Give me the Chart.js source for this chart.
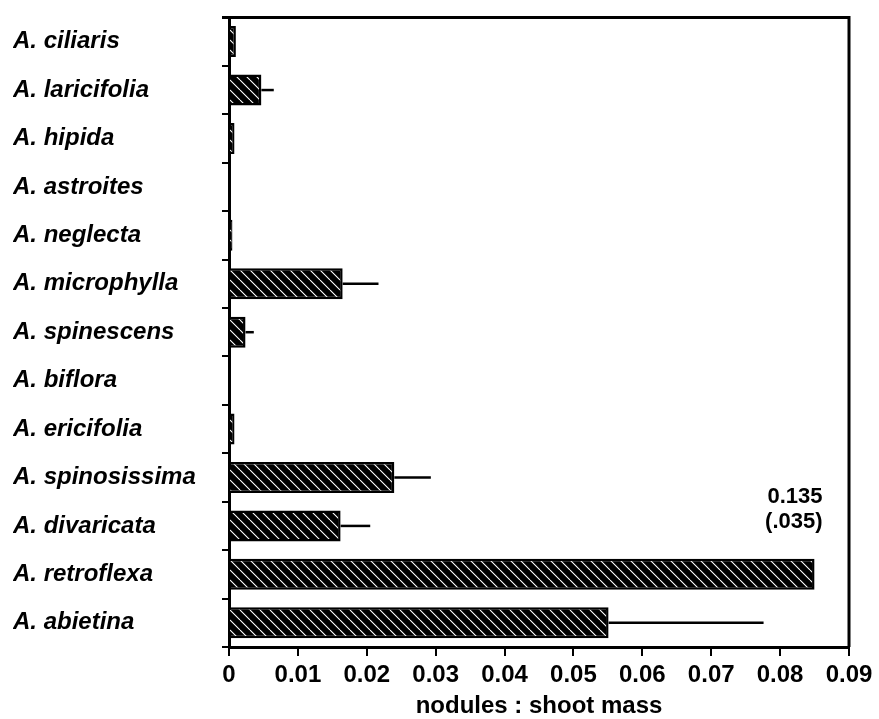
<!DOCTYPE html>
<html>
<head>
<meta charset="utf-8">
<script src="https://cdn.jsdelivr.net/npm/chart.js@4/dist/chart.umd.min.js"></script>
<style>
  html, body { margin: 0; padding: 0; background: #fff; }
  canvas { display: block; }
</style>
</head>
<body>
<canvas id="chart" width="879" height="719"></canvas>
<script>
// Species (top to bottom)
const species = [
  'A. ciliaris', 'A. laricifolia', 'A. hipida', 'A. astroites', 'A. neglecta',
  'A. microphylla', 'A. spinescens', 'A. biflora', 'A. ericifolia',
  'A. spinosissima', 'A. divaricata', 'A. retroflexa', 'A. abietina'
];
// Mean nodules : shoot mass ratio
const ratioMean = [
  0.0010, 0.0047, 0.0008, 0.0000, 0.0005,
  0.0165, 0.0024, 0.0000, 0.0008,
  0.0240, 0.0162, 0.135, 0.0551
];
// Standard error (drawn to the right of each bar)
const ratioSE = [
  0, 0.0018, 0, 0, 0,
  0.0052, 0.0012, 0, 0,
  0.0053, 0.0043, 0.035, 0.0225
];
// Axis break: bars longer than this are cut and their value is written above
const axisBreak = 0.085;
const xTickLabels = ['0', '0.01', '0.02', '0.03', '0.04', '0.05', '0.06', '0.07', '0.08', '0.09'];

// Diagonal hatch fill: black with thin white "\" stripes
function makeHatch() {
  const t = document.createElement('canvas');
  t.width = 10; t.height = 10;
  const c = t.getContext('2d');
  c.fillStyle = '#000';
  c.fillRect(0, 0, 10, 10);
  c.strokeStyle = '#fff';
  c.lineWidth = 1.1;
  c.beginPath();
  for (const k of [-10, 0, 10]) {
    c.moveTo(k, 0);
    c.lineTo(k + 10, 10);
  }
  c.stroke();
  return document.getElementById('chart').getContext('2d').createPattern(t, 'repeat');
}

const shownValues = ratioMean.map(v => Math.min(v, axisBreak));

// Error bars, outer frame and the value note for the cut bar
const extras = {
  id: 'extras',
  afterDatasetsDraw(chart) {
    const ctx = chart.ctx;
    const xs = chart.scales.x;
    const meta = chart.getDatasetMeta(0);
    const area = chart.chartArea;
    ctx.save();
    ctx.strokeStyle = '#000';
    ctx.lineWidth = 2.5;
    ratioMean.forEach((m, i) => {
      if (ratioSE[i] <= 0 || m > axisBreak) return;
      const y = meta.data[i].y;
      ctx.beginPath();
      ctx.moveTo(xs.getPixelForValue(m), y);
      ctx.lineTo(xs.getPixelForValue(m + ratioSE[i]), y);
      ctx.stroke();
    });
    // frame top and right
    ctx.lineWidth = 3;
    ctx.beginPath();
    ctx.moveTo(area.left - 7, area.top);
    ctx.lineTo(area.right + 1.5, area.top);
    ctx.moveTo(area.right, area.top);
    ctx.lineTo(area.right, area.bottom);
    ctx.stroke();
    // note for values beyond the break
    ctx.fillStyle = '#000';
    ctx.font = 'bold 22px "Liberation Sans", Arial, sans-serif';
    ctx.textAlign = 'right';
    ctx.textBaseline = 'middle';
    ratioMean.forEach((m, i) => {
      if (m <= axisBreak) return;
      const bar = meta.data[i];
      const xr = xs.getPixelForValue(axisBreak) + 8;
      const top = bar.y - bar.height / 2;
      ctx.fillText(m.toFixed(3), xr, top - 62);
      ctx.fillText('(' + ratioSE[i].toFixed(3).replace(/^0/, '') + ')', xr, top - 37);
    });
    ctx.restore();
  }
};

new Chart(document.getElementById('chart'), {
  type: 'bar',
  data: {
    labels: species,
    datasets: [{
      data: shownValues,
      backgroundColor: makeHatch(),
      borderColor: '#000',
      borderWidth: 2.5,
      borderSkipped: 'start',
      barPercentage: 0.64,
      categoryPercentage: 1.0
    }]
  },
  options: {
    indexAxis: 'y',
    responsive: false,
    animation: false,
    devicePixelRatio: 1,
    layout: { padding: { left: 13, top: 15, right: 30, bottom: 0 } },
    plugins: { legend: { display: false }, tooltip: { enabled: false } },
    scales: {
      x: {
        type: 'linear',
        min: 0,
        max: 0.09,
        afterFit(s) { s.height = 72; },
        ticks: {
          stepSize: 0.01,
          color: '#000',
          padding: 5,
          maxRotation: 0,
          autoSkip: false,
          font: { family: '"Liberation Sans", Arial, sans-serif', size: 24, weight: 'bold' },
          callback: (v, i) => xTickLabels[i]
        },
        grid: { drawOnChartArea: false, drawTicks: true, tickLength: 9, color: '#000', lineWidth: 2 },
        border: { display: true, color: '#000', width: 3 },
        title: {
          display: true,
          text: 'nodules : shoot mass',
          color: '#000',
          padding: { top: 0, bottom: 0 },
          font: { family: '"Liberation Sans", Arial, sans-serif', size: 24, weight: 'bold', lineHeight: 1.05 }
        }
      },
      y: {
        afterFit(s) { s.width = 216; },
        ticks: {
          crossAlign: 'far',
          color: '#000',
          autoSkip: false,
          font: { family: '"Liberation Sans", Arial, sans-serif', size: 24, weight: 'bold', style: 'italic' }
        },
        grid: { offset: true, drawOnChartArea: false, drawTicks: true, tickLength: 7, color: '#000', lineWidth: 2 },
        border: { display: true, color: '#000', width: 3 }
      }
    }
  },
  plugins: [extras]
});
</script>
</body>
</html>
